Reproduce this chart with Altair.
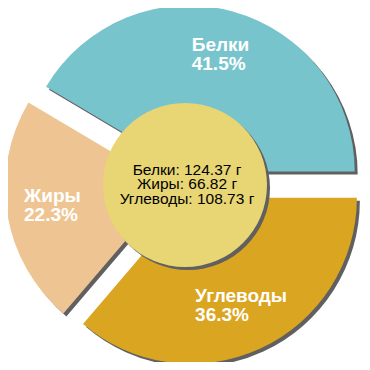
import math
import altair as alt
import pandas as pd

# Data (clockwise order starting from 3 o'clock)
names = ["Углеводы", "Жиры", "Белки"]
grams = [108.73, 66.82, 124.37]
colors = ["#daa520", "#eec592", "#78c4cd"]
center_order = ["Белки", "Жиры", "Углеводы"]

df = pd.DataFrame({"name": names, "grams": grams, "order": list(range(len(names)))})

# Layout constants (chart pixel coordinates)
CX, CY = 177, 177
EXPLODE = 14
R = 166
LR = 120
R_IN = 82
SH = 3
LAB_FS = 19
LAB_LH = 19
CEN_FS = 15.5
CEN_LH = 14.5

gmap = dict(zip(names, grams))
center_lines = [f"{n}: {gmap[n]:.2f} г" for n in center_order]

base = (
    alt.Chart(df)
    .transform_joinaggregate(total="sum(grams)")
    .transform_window(cum="sum(grams)", sort=[alt.SortField("order")], frame=[None, 0])
    .transform_calculate(t1="PI/2 + 2*PI*datum.cum/datum.total")
    .transform_calculate(t0="datum.t1 - 2*PI*datum.grams/datum.total")
    .transform_calculate(mid="(datum.t0 + datum.t1)/2")
    .transform_calculate(
        ox=f"{CX} + {EXPLODE}*sin(datum.mid)",
        oy=f"{CY} - {EXPLODE}*cos(datum.mid)",
        pct="format(100*datum.grams/datum.total, '.1f') + '%'",
    )
)

color_enc = alt.Color("name:N", scale=alt.Scale(domain=names, range=colors), legend=None)

shadow = (
    base.transform_calculate(sx=f"datum.ox + {SH}", sy=f"datum.oy + {SH}")
    .mark_arc(radius=R, color="#606060")
    .encode(
        theta=alt.Theta("t0:Q", scale=None),
        theta2="t1:Q",
        x=alt.X("sx:Q", scale=None, axis=None),
        y=alt.Y("sy:Q", scale=None, axis=None),
    )
)

slices = base.mark_arc(radius=R).encode(
    theta=alt.Theta("t0:Q", scale=None),
    theta2="t1:Q",
    x=alt.X("ox:Q", scale=None, axis=None),
    y=alt.Y("oy:Q", scale=None, axis=None),
    color=color_enc,
)

labels = (
    base.transform_calculate(
        lab="[datum.name, datum.pct]",
        lx=f"datum.ox + {LR}*sin(datum.mid) - 5.75*max(length(datum.name), length(datum.pct))",
        ly=f"datum.oy - {LR}*cos(datum.mid) - {LAB_LH / 2 + 1}",
    )
    .mark_text(
        align="left",
        baseline="middle",
        font="Liberation Sans",
        fontSize=LAB_FS,
        fontWeight="bold",
        color="white",
        lineHeight=LAB_LH,
    )
    .encode(
        x=alt.X("lx:Q", scale=None, axis=None),
        y=alt.Y("ly:Q", scale=None, axis=None),
        text="lab:N",
    )
)

one = alt.Data(values=[{"k": 1}])

circle_shadow = alt.Chart(one).mark_circle(
    size=(2 * R_IN) ** 2, color="#606060", opacity=1
).encode(x=alt.value(CX + SH), y=alt.value(CY + SH))

circle = alt.Chart(one).mark_circle(
    size=(2 * R_IN) ** 2, color="#e8d574", opacity=1
).encode(x=alt.value(CX), y=alt.value(CY))

center_text = alt.Chart(one).mark_text(
    text=center_lines,
    align="center",
    baseline="middle",
    font="Liberation Sans",
    fontSize=CEN_FS,
    lineHeight=CEN_LH,
    color="black",
).encode(x=alt.value(CX + 2), y=alt.value(CY - 1 - CEN_LH))

chart = (
    alt.layer(shadow, slices, circle_shadow, circle, labels, center_text)
    .properties(width=354, height=354, padding=0, autosize="none")
    .configure_view(stroke=None)
)

chart.save("out.html", embed_options={"renderer": "svg", "actions": False})
